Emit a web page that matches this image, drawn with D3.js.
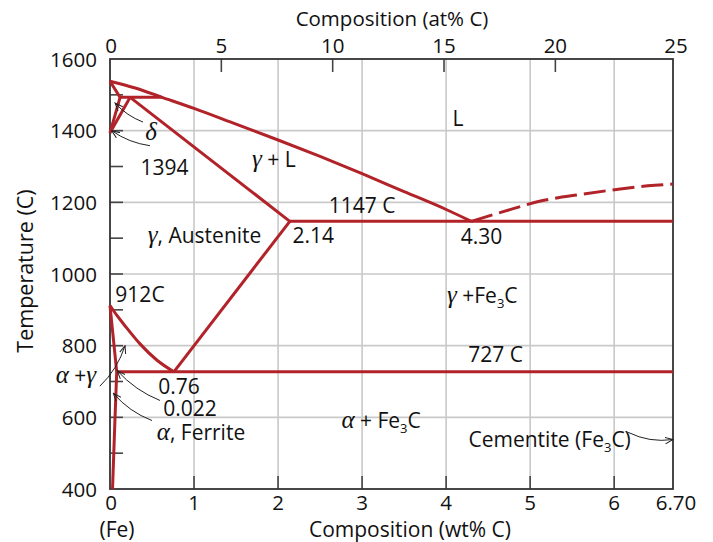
<!DOCTYPE html>
<html><head><meta charset="utf-8">
<script src="https://cdn.jsdelivr.net/npm/d3@7"></script>
<style>
body{margin:0;background:#fff;}
text{font-family:"Open Sans",sans-serif;fill:#111;}
.gk{font-family:"Liberation Serif","DejaVu Serif",serif;font-style:italic;}
</style></head><body>
<svg id="c" width="713" height="542"></svg>
<script>
// ---- data (wt% C, temperature C) ----
const wtTicks = [0,1,2,3,4,5,6,6.70];
const wtTickLabels = ["0","1","2","3","4","5","6","6.70"];
const atTicks = [0,5,10,15,20,25];
const tempTicks = [400,600,800,1000,1200,1400,1600];
const tempMinorTicks = [500,600,700,800,900,1000,1100,1200,1300,1400,1500];
const liquidus = [[0,1538],[0.3,1519],[0.62,1493],[1,1462],[1.5,1418],[2,1374],[2.5,1328],[3,1280],[3.5,1230],[4,1180],[4.3,1147]];
const liquidusCm = [[4.30,1147],[4.68,1174],[5.15,1205],[5.6,1222],[6.03,1236],[6.4,1246],[6.70,1251]];
const deltaField = [[0,1538],[0.12,1493],[0,1394]];
const gammaDelta = [[0,1394],[0.24,1493]];
const peritectic = [[0.12,1493],[0.62,1493]];
const solidus = [[0.24,1493],[2.14,1147]];
const eutectic = [[2.14,1147],[6.70,1147]];
const a3 = [[0,912],[0.08,885],[0.18,855],[0.357,805],[0.556,760],[0.76,727]];
const acm = [[0.76,727],[2.14,1147]];
const eutectoid = [[0.08,727],[6.70,727]];
const alphaA3 = [[0,912],[0.08,727]];
const solvus = [[0.08,727],[0.06,600],[0.045,500],[0.03,400]];
// labels: [wt, T, parts]  parts: [text, type] type: n normal, g greek, s subscript
const labels = [
  [4.14,1413,[["L","n"]]],
  [1.95,1299,[["γ","g"],[" + L","n"]]],
  [3.0,1170,[["1147 C","n"]]],
  [1.125,1087,[["γ","g"],[", Austenite","n"]]],
  [2.42,1087,[["2.14","n"]]],
  [4.42,1084,[["4.30","n"]]],
  [0.357,923,[["912C","n"]]],
  [4.43,919,[["γ","g"],[" +Fe","n"],["3","s"],["C","n"]]],
  [4.59,755,[["727 C","n"]]],
  [-0.405,696,[["α","g"],[" +","n"],["γ","g"]]],
  [0.82,665,[["0.76","n"]]],
  [0.952,603,[["0.022","n"]]],
  [1.083,537,[["α","g"],[", Ferrite","n"]]],
  [3.226,570,[["α","g"],[" + Fe","n"],["3","s"],["C","n"]]],
  [5.232,517,[["Cementite (Fe","n"],["3","s"],["C)","n"]]],
  [0.488,1374,[["δ","g"]]],
  [0.649,1276,[["1394","n"]]]
];
// arrows: from [wt,T] to [wt,T], bend in px (perpendicular)
const arrows = [
  [[0.393,1424],[0.06,1477],-4],
  [[0.476,1358],[0.02,1400],-5],
  [[-0.12,687],[0.179,800],6],
  [[0.595,647],[0.087,730],-6],
  [[0.5,591],[0.04,667],-6],
  [[6.167,558],[6.70,538],7]
];

const svg = d3.select("#c");
const x = d3.scaleLinear().domain([0,6.70]).range([110,673]);
const y = d3.scaleLinear().domain([400,1600]).range([489,59]);
const xAt = d3.scaleLinear().domain([0,20,25]).range([x(0),x(5.3),x(6.70)]);
const red = "#b22229";

// grid
svg.append("g").selectAll("line").data([1,2,3,4,5,6]).join("line")
  .attr("x1",d=>x(d)).attr("x2",d=>x(d)).attr("y1",y(1600)).attr("y2",y(400))
  .attr("stroke","#c9c9c9").attr("stroke-width",1.6);
svg.append("g").selectAll("line").data([600,800,1000,1200,1400]).join("line")
  .attr("y1",d=>y(d)).attr("y2",d=>y(d)).attr("x1",x(0)).attr("x2",x(6.7))
  .attr("stroke","#c9c9c9").attr("stroke-width",1.6);

// ticks (inward)
const tk = svg.append("g").attr("stroke","#444").attr("stroke-width",1.6);
tk.selectAll(".l").data(tempMinorTicks).join("line").attr("class","l")
  .attr("x1",x(0)).attr("x2",x(0)+13).attr("y1",d=>y(d)).attr("y2",d=>y(d));
tk.selectAll(".b").data([1,2,3,4,5,6]).join("line").attr("class","b")
  .attr("x1",d=>x(d)).attr("x2",d=>x(d)).attr("y1",y(400)).attr("y2",y(400)-13);
tk.selectAll(".t").data([5,10,15,20]).join("line").attr("class","t")
  .attr("x1",d=>xAt(d)).attr("x2",d=>xAt(d)).attr("y1",y(1600)).attr("y2",y(1600)+13);

// frame
svg.append("rect").attr("x",x(0)).attr("y",y(1600)).attr("width",x(6.7)-x(0)).attr("height",y(400)-y(1600))
  .attr("fill","none").attr("stroke","#333").attr("stroke-width",1.8);

// tick labels
svg.append("g").selectAll("text").data(tempTicks).join("text")
  .attr("x",97).attr("y",d=>y(d)+7.5).attr("text-anchor","end").attr("font-size",20.5).text(d=>d);
svg.append("g").selectAll("text").data(wtTicks).join("text")
  .attr("x",(d,i)=>x(d)+(i===0?1:0)+(i===7?3:0)).attr("y",y(400)+21).attr("text-anchor","middle").attr("font-size",20.5)
  .text((d,i)=>wtTickLabels[i]);
svg.append("g").selectAll("text").data(atTicks).join("text")
  .attr("x",(d,i)=>xAt(d)+(i===0?1:0)+(i===5?3:0)).attr("y",y(1600)-6).attr("text-anchor","middle").attr("font-size",20.5)
  .text(d=>d);

// axis titles
svg.append("text").attr("x",392).attr("y",26).attr("text-anchor","middle").attr("font-size",20.5).text("Composition (at% C)");
svg.append("text").attr("x",410).attr("y",537).attr("text-anchor","middle").attr("font-size",21).text("Composition (wt% C)");
svg.append("text").attr("x",117).attr("y",537).attr("text-anchor","middle").attr("font-size",21).text("(Fe)");
svg.append("text").attr("transform","translate(33,271) rotate(-90)").attr("text-anchor","middle").attr("font-size",21.5).text("Temperature (C)");

// phase lines
const line = d3.line().x(d=>x(d[0])).y(d=>y(d[1]));
const smooth = d3.line().x(d=>x(d[0])).y(d=>y(d[1])).curve(d3.curveMonotoneX);
const lg = svg.append("g").attr("fill","none").attr("stroke",red).attr("stroke-width",3).attr("stroke-linejoin","round");
lg.append("path").attr("d",smooth(liquidus));
lg.append("path").attr("d",smooth(liquidusCm)).attr("stroke-dasharray","22,7");
[deltaField,gammaDelta,peritectic,solidus,eutectic,acm,eutectoid,alphaA3].forEach(p=>lg.append("path").attr("d",line(p)));
lg.append("path").attr("d",smooth(a3));
lg.append("path").attr("d",d3.line().x(d=>x(d[0])).y(d=>y(d[1])).curve(d3.curveMonotoneY)(solvus.slice().reverse()));

// arrows
svg.append("defs").append("marker").attr("id","ah").attr("viewBox","0 -4 9 8").attr("refX",8).attr("refY",0)
  .attr("markerWidth",9).attr("markerHeight",8).attr("markerUnits","userSpaceOnUse").attr("orient","auto")
  .append("path").attr("d","M0,-3.2L8,0L0,3.2").attr("fill","none").attr("stroke","#222").attr("stroke-width",1);
svg.append("g").selectAll("path").data(arrows).join("path")
  .attr("d",a=>{
    const x0=x(a[0][0]),y0=y(a[0][1]),x1=x(a[1][0]),y1=y(a[1][1]);
    const mx=(x0+x1)/2,my=(y0+y1)/2,dx=x1-x0,dy=y1-y0,L=Math.hypot(dx,dy);
    const cx=mx+(-dy/L)*a[2],cy=my+(dx/L)*a[2];
    return `M${x0},${y0}Q${cx},${cy} ${x1},${y1}`;
  })
  .attr("fill","none").attr("stroke","#222").attr("stroke-width",1).attr("marker-end","url(#ah)");

// labels
const lb = svg.append("g");
labels.forEach(l=>{
  const t = lb.append("text").attr("x",x(l[0])).attr("y",y(l[1])).attr("text-anchor","middle").attr("font-size",21);
  l[2].forEach((p,i)=>{
    const s = t.append("tspan").text(p[0]);
    if(p[1]==="g") s.attr("class","gk").attr("font-size",25);
    if(p[1]==="s") s.attr("font-size",13).attr("dy",5);
    else if(i>0 && l[2][i-1][1]==="s") s.attr("dy",-5);
  });
});
</script></body></html>
